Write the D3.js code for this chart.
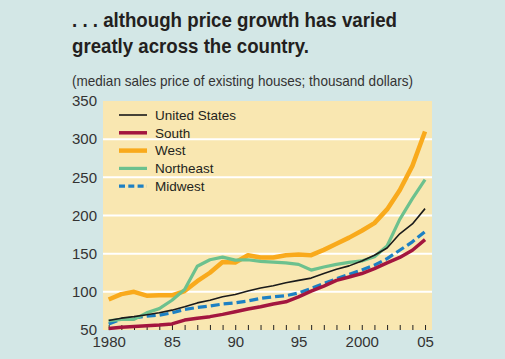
<!DOCTYPE html>
<html><head><meta charset="utf-8">
<script src="https://cdn.jsdelivr.net/npm/d3@7"></script>
<style>html,body{margin:0;padding:0;background:#d3e7e6;}svg{display:block;}</style>
</head><body>
<svg id="c" width="505" height="359"></svg>
<script>
const years = d3.range(1980, 2006);
const unitedStates = [62.5,65.5,67.5,70,72.5,76,80.5,85.5,89,93.5,96.5,101,105,108,112,115,118,124,129.5,134,140.5,148,157.5,176,189,209];
const south = [52,53.5,54.5,55.5,56.5,58,63,65.5,67.5,70.5,74,77.5,80.5,84,87,93.5,101,107.5,115,119.5,124,130.5,138,145,154.5,168.5];
const west = [90,97,100,95,95.5,95.5,101,114,125,139,138.5,148,145,145,148,149,148,155,163,171,180,190,208,233,265,310];
const northeast = [62,64,64,72.5,78,89,103,133.5,142,145.5,141.5,142,140,139,138,136,128.5,132.5,136,138.5,140.5,146,160,195,222,247];
const midwest = [58,64,66,68,69.5,72.5,77,79.5,81.5,84,85.5,88,91.5,93.5,95,98.5,104.5,111,117,123,128.5,135,143.5,154.5,165.5,179];
const yTicks = [50,100,150,200,250,300,350];
const xTickLabels = [[1980,"1980"],[1985,"85"],[1990,"90"],[1995,"95"],[2000,"2000"],[2005,"05"]];
const seriesNames = ["United States","South","West","Northeast","Midwest"];

const svg = d3.select("#c");
const L=103,R=432,T=101,B=330;
const x = d3.scaleLinear().domain([1979.55,2005.55]).range([L,R]);
const y = d3.scaleLinear().domain([50,350]).range([B,T]);

svg.append("rect").attr("width",505).attr("height",359).attr("fill","#d3e7e6");
// title
const tf = "'Liberation Sans Narrow', 'Liberation Sans', sans-serif";
svg.append("text").attr("x",72).attr("y",27).attr("font-family",tf).attr("font-weight","bold")
  .attr("font-size",20).attr("fill","#231f20").attr("textLength",325).attr("lengthAdjust","spacingAndGlyphs")
  .text(". . . although price growth has varied");
svg.append("text").attr("x",72).attr("y",53).attr("font-family",tf).attr("font-weight","bold")
  .attr("font-size",20).attr("fill","#231f20").attr("textLength",237).attr("lengthAdjust","spacingAndGlyphs")
  .text("greatly across the country.");
svg.append("text").attr("x",72).attr("y",86).attr("font-family",tf)
  .attr("font-size",15).attr("fill","#333").attr("textLength",341).attr("lengthAdjust","spacingAndGlyphs")
  .text("(median sales price of existing houses; thousand dollars)");

// plot bg
svg.append("rect").attr("x",L).attr("y",T).attr("width",R-L).attr("height",B-T).attr("fill","#f9e7b1");
// gridlines
svg.append("g").selectAll("line").data(yTicks.filter(v=>v>50&&v<350)).join("line")
  .attr("x1",L).attr("x2",R).attr("y1",d=>y(d)).attr("y2",d=>y(d))
  .attr("stroke","#fff").attr("stroke-width",2);

// y axis labels
const ya = svg.append("g").attr("transform",`translate(${L},0)`)
  .call(d3.axisLeft(y).tickValues(yTicks).tickSize(0).tickPadding(6));
ya.select(".domain").remove();
ya.selectAll("text").attr("font-family","'Liberation Sans', Arial, sans-serif").attr("font-size",15).attr("fill","#333");

// x tick marks
const xt = svg.append("g").attr("transform",`translate(0,${B})`)
  .call(d3.axisBottom(x).tickValues(years).tickSize(-5).tickFormat(""));
xt.select(".domain").remove();
xt.selectAll("line").attr("stroke","#222").attr("stroke-width",1);
// x labels
const xl = svg.append("g").attr("transform",`translate(0,${B})`)
  .call(d3.axisBottom(x).tickValues(xTickLabels.map(d=>d[0])).tickSize(0).tickPadding(6)
    .tickFormat(v=>xTickLabels.find(d=>d[0]===v)[1]));
xl.select(".domain").remove();
xl.selectAll("text").attr("font-family","'Liberation Sans', Arial, sans-serif").attr("font-size",15).attr("fill","#333");

const styles = {
  "United States":{c:"#1a1a1a",w:1.6,d:null,v:unitedStates},
  "South":{c:"#a3163f",w:3.5,d:null,v:south},
  "West":{c:"#f9aa1c",w:4.5,d:null,v:west},
  "Northeast":{c:"#6cc18e",w:3.2,d:null,v:northeast},
  "Midwest":{c:"#1d80c3",w:3.2,d:"9,4",v:midwest}
};
const line = d3.line().x((d,i)=>x(years[i])).y(d=>y(d));
const order = ["Midwest","South","West","Northeast","United States"];
order.forEach(n=>{
  const s=styles[n];
  svg.append("path").datum(s.v).attr("d",line).attr("fill","none")
    .attr("stroke",s.c).attr("stroke-width",s.w).attr("stroke-linejoin","round")
    .attr("stroke-dasharray",s.d);
});

// legend
const lg = svg.append("g");
seriesNames.forEach((n,i)=>{
  const s=styles[n]; const yy = 115 + i*17.8;
  lg.append("line").attr("x1",119).attr("x2",147).attr("y1",yy).attr("y2",yy)
    .attr("stroke",s.c).attr("stroke-width",s.w).attr("stroke-dasharray",n==="Midwest"?"6,3.3":null);
  lg.append("text").attr("x",155).attr("y",yy).attr("dy","0.36em")
    .attr("font-family","'Liberation Sans', Arial, sans-serif").attr("font-size",13.5).attr("fill","#231f20").text(n);
});
</script>
</body></html>
